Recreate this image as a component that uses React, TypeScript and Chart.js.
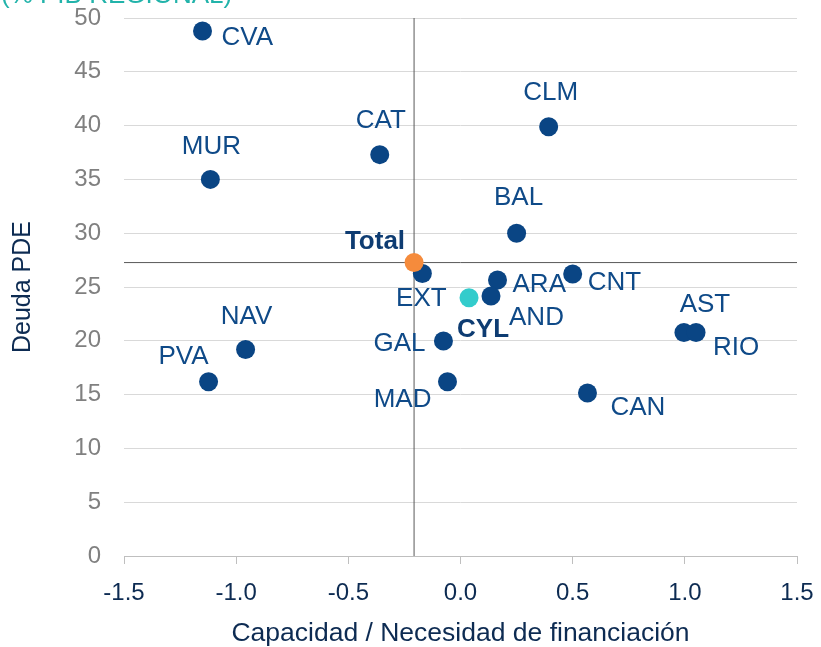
import React, { useEffect, useRef } from "react";
import { Chart, registerables } from "chart.js";

Chart.register(...registerables);

const regions = ["CVA", "MUR", "CAT", "CLM", "BAL", "EXT", "ARA", "AND", "CNT", "AST", "RIO", "NAV", "PVA", "GAL", "MAD", "CAN"];
const capacidad = [-1.15, -1.115, -0.36, 0.393, 0.25, -0.17, 0.165, 0.136, 0.5, 0.996, 1.05, -0.958, -1.123, -0.076, -0.058, 0.566];
const deuda = [48.8, 35.0, 37.3, 39.9, 30.0, 26.25, 25.65, 24.16, 26.2, 20.77, 20.77, 19.2, 16.2, 19.98, 16.2, 15.15];

const totalLabel = "Total";
const totalX = -0.207;
const totalY = 27.27;

const cylLabel = "CYL";
const cylX = 0.038;
const cylY = 24.0;

const xMin = -1.5;
const xMax = 1.5;
const xStep = 0.5;
const yMin = 0;
const yMax = 50;
const yStep = 5;

const xTitle = "Capacidad / Necesidad de financiación";
const yTitle = "Deuda PDE";
const subTitle = "(% PIB REGIONAL)";

// label placement (style): align, dx, dy relative to point centre
const labelPlacement: Record<string, [CanvasTextAlign, number, number]> = {
  CVA: ["left", 19, 7],
  MUR: ["center", 1, -33],
  CAT: ["center", 1, -34],
  CLM: ["center", 2, -34],
  BAL: ["center", 2, -35],
  EXT: ["center", -1, 25],
  ARA: ["left", 15, 5],
  AND: ["left", 18, 22],
  CNT: ["left", 15, 9],
  AST: ["center", 21, -28],
  RIO: ["left", 17, 15],
  NAV: ["center", 1, -33],
  PVA: ["center", -25, -25],
  GAL: ["right", -18, 3],
  MAD: ["right", -16, 18],
  CAN: ["left", 23, 15],
  Total: ["right", -9, -21],
  CYL: ["left", -12, 32],
};

const FONT = "'Liberation Sans', Arial, Helvetica, sans-serif";
const NAVY = "#0a4584";
const LABEL = "#0f4a88";
const DARK = "#0d2b52";

const labelPlugin = {
  id: "pointLabels",
  afterDatasetsDraw(chart: any) {
    const ctx = chart.ctx;
    ctx.save();
    chart.data.datasets.forEach((ds: any, di: number) => {
      if (!ds.pointLabels) return;
      const meta = chart.getDatasetMeta(di);
      meta.data.forEach((el: any, i: number) => {
        const name = ds.pointLabels[i];
        const p = labelPlacement[name] || ["left", 12, 0];
        ctx.font = (ds.boldLabels ? "bold " : "") + "26px " + FONT;
        ctx.fillStyle = ds.boldLabels ? "#0e3c72" : LABEL;
        ctx.textAlign = p[0];
        ctx.textBaseline = "middle";
        ctx.fillText(name, el.x + p[1], el.y + p[2]);
      });
    });
    ctx.font = "26px " + FONT;
    ctx.fillStyle = "#22b3aa";
    ctx.textAlign = "left";
    ctx.textBaseline = "alphabetic";
    ctx.fillText(subTitle, 1, 3);
    ctx.restore();
  },
};

const zeroPad = (s: any) => {
  s.paddingTop = 0;
  s.paddingBottom = 0;
  s.paddingLeft = 0;
  s.paddingRight = 0;
};

export default function App() {
  const ref = useRef<HTMLCanvasElement | null>(null);
  useEffect(() => {
    if (!ref.current) return;
    const chart = new Chart(ref.current, {
      type: "scatter",
      data: {
        datasets: [
          {
            label: totalLabel,
            data: [{ x: totalX, y: totalY }],
            backgroundColor: "#f58b3c",
            pointRadius: 9.5,
            pointBorderWidth: 0,
            order: 0,
            pointLabels: [totalLabel],
            boldLabels: true,
          } as any,
          {
            label: cylLabel,
            data: [{ x: cylX, y: cylY }],
            backgroundColor: "#33cccc",
            pointRadius: 9.5,
            pointBorderWidth: 0,
            order: 1,
            pointLabels: [cylLabel],
            boldLabels: true,
          } as any,
          {
            label: "CCAA",
            data: regions.map((r, i) => ({ x: capacidad[i], y: deuda[i] })),
            backgroundColor: NAVY,
            pointRadius: 9.5,
            pointBorderWidth: 0,
            order: 2,
            pointLabels: regions,
          } as any,
          {
            label: "v",
            data: [{ x: totalX, y: yMin }, { x: totalX, y: yMax }],
            showLine: true,
            borderColor: "#595959",
            borderWidth: 1,
            pointRadius: 0,
            order: 3,
          },
          {
            label: "h",
            data: [{ x: xMin, y: totalY }, { x: xMax, y: totalY }],
            showLine: true,
            borderColor: "#595959",
            borderWidth: 1,
            pointRadius: 0,
            order: 3,
          },
        ],
      },
      options: {
        animation: false,
        responsive: false,
        layout: { padding: { left: 0, top: 18, right: 24, bottom: 0 } },
        plugins: { legend: { display: false }, tooltip: { enabled: false } },
        scales: {
          x: {
            type: "linear",
            min: xMin,
            max: xMax,
            afterFit: (s: any) => { s.height = 91; zeroPad(s); },
            ticks: {
              stepSize: xStep,
              callback: (v: any) => Number(v).toFixed(1),
              color: DARK,
              font: { family: FONT, size: 24 },
              padding: 15,
            },
            grid: { drawOnChartArea: false, drawTicks: true, tickLength: 8, color: "#bfbfbf" },
            border: { display: true, color: "#bfbfbf" },
            title: {
              display: true,
              text: xTitle,
              color: DARK,
              font: { family: FONT, size: 26.5, lineHeight: 1.0 },
              padding: { top: 0, bottom: 0 },
            },
          },
          y: {
            type: "linear",
            min: yMin,
            max: yMax,
            afterFit: (s: any) => { s.width = 124; zeroPad(s); },
            ticks: {
              stepSize: yStep,
              color: "#808080",
              font: { family: FONT, size: 24 },
              padding: 23,
            },
            grid: { drawTicks: false, color: "#d9d9d9" },
            border: { display: false },
            title: {
              display: true,
              text: yTitle,
              color: DARK,
              font: { family: FONT, size: 25 },
              padding: { top: 8, bottom: 0 },
            },
          },
        },
      } as any,
      plugins: [labelPlugin],
    });
    return () => chart.destroy();
  }, []);
  return (
    <div style={{ position: "absolute", left: 0, top: 0, width: 821, height: 647, background: "#fff" }}>
      <canvas ref={ref} width={821} height={647} />
    </div>
  );
}
